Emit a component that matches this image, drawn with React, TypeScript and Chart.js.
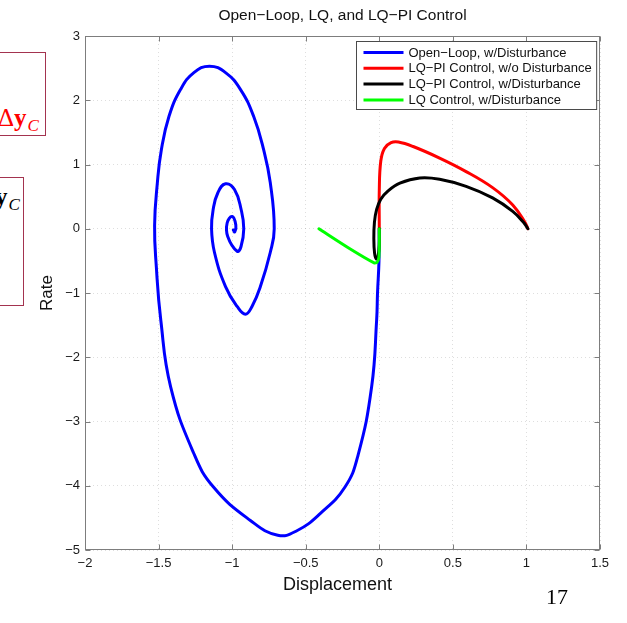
import { useEffect, useRef } from 'react';
import { Chart, registerables } from 'chart.js';

Chart.register(...registerables);

const TITLE = 'Open\u2212Loop, LQ, and LQ\u2212PI Control';
const X_TITLE = 'Displacement';
const Y_TITLE = 'Rate';
const X_TICKS = [-2, -1.5, -1, -0.5, 0, 0.5, 1, 1.5];
const Y_TICKS = [3, 2, 1, 0, -1, -2, -3, -4, -5];

const SERIES_LABELS = [
  'Open\u2212Loop, w/Disturbance',
  'LQ\u2212PI Control, w/o Disturbance',
  'LQ\u2212PI Control, w/Disturbance',
  'LQ Control, w/Disturbance',
];
const SERIES_COLORS = ['#0000ff', '#ff0000', '#000000', '#00ff00'];

const openLoopX = [
  0, -0.002, -0.012, -0.018, -0.052, -0.145, -0.233, -0.4, -0.56, -0.69, -0.876, -1.127, -1.262, -1.418,
  -1.485, -1.515, -1.527, -1.508, -1.481, -1.429, -1.35, -1.26, -1.154, -1.045, -0.944, -0.854, -0.786,
  -0.741, -0.714, -0.741, -0.808, -0.865, -0.91, -0.966, -1.045, -1.12, -1.14, -1.129, -1.097, -1.045,
  -0.984, -0.939, -0.921, -0.94, -0.966, -1.03, -1.034, -1.0, -0.975, -0.982, -0.992,
];
const openLoopY = [
  0, -0.5, -1.0, -1.42, -2.46, -3.53, -4.02, -4.43, -4.7, -4.77, -4.54, -4.02, -3.49, -2.46,
  -1.42, -0.6, 0.05, 0.72, 1.23, 1.75, 2.17, 2.43, 2.53, 2.43, 2.17, 1.75, 1.23,
  0.72, 0.0, -0.37, -0.9, -1.21, -1.33, -1.21, -0.9, -0.37, 0.0, 0.3, 0.56, 0.7,
  0.61, 0.3, 0.0, -0.28, -0.35, -0.12, 0.09, 0.19, 0.06, -0.05, -0.02,
];

const lqpiNoDistX = [0, 0, 0.01, 0.035, 0.08, 0.13, 0.23, 0.41, 0.59, 0.77, 0.907, 0.99, 1.01];
const lqpiNoDistY = [0, 0.6, 1.05, 1.25, 1.34, 1.35, 1.28, 1.1, 0.89, 0.64, 0.37, 0.1, 0.0];

const lqpiDistX = [0, 0, -0.008, -0.02, -0.032, -0.037, -0.033, -0.018, 0.01, 0.06, 0.14, 0.275, 0.41, 0.59, 0.77, 0.907, 0.98, 1.01];
const lqpiDistY = [0, -0.25, -0.42, -0.47, -0.38, -0.15, 0.1, 0.3, 0.46, 0.59, 0.71, 0.79, 0.77, 0.66, 0.48, 0.27, 0.1, 0.0];

const lqDistX = [0, 0, -0.003, -0.015, -0.035, -0.2, -0.41];
const lqDistY = [0, -0.25, -0.45, -0.52, -0.53, -0.31, 0.0];

const AXIS_COLOR = '#7d7d7d';
const FONT = '"Liberation Sans", Arial, Helvetica, sans-serif';

const fmt = (v: number) => String(v).replace('-', '\u2212');

const zip = (xs: number[], ys: number[]) => xs.map((x, i) => ({ x, y: ys[i] }));

const framePlugin = {
  id: 'matlabFrame',
  afterDatasetsDraw(chart: any) {
    const { ctx, chartArea: a, scales } = chart;
    ctx.save();
    const L = Math.round(a.left) + 0.5;
    const R = Math.round(a.right) - 0.5;
    const T = Math.round(a.top) + 0.5;
    const B = Math.round(a.bottom) - 0.5;
    ctx.strokeStyle = AXIS_COLOR;
    ctx.lineWidth = 1;
    ctx.setLineDash([]);
    ctx.strokeRect(L, T, R - L, B - T);
    const tl = 5;
    ctx.beginPath();
    X_TICKS.forEach((v) => {
      const px = Math.round(scales.x.getPixelForValue(v)) + 0.5;
      ctx.moveTo(px, B);
      ctx.lineTo(px, B - tl);
      ctx.moveTo(px, T);
      ctx.lineTo(px, T + tl);
    });
    Y_TICKS.forEach((v) => {
      const py = Math.round(scales.y.getPixelForValue(v)) + 0.5;
      ctx.moveTo(L, py);
      ctx.lineTo(L + tl, py);
      ctx.moveTo(R, py);
      ctx.lineTo(R - tl, py);
    });
    ctx.stroke();

    // legend
    ctx.font = `13px ${FONT}`;
    const tw = Math.max(...SERIES_LABELS.map((s) => ctx.measureText(s).width));
    const w = 52 + tw + 5;
    const h = 68;
    const x0 = Math.round(a.right - 4 - w) + 0.5;
    const y0 = Math.round(a.top + 5) + 0.5;
    ctx.fillStyle = '#ffffff';
    ctx.fillRect(x0, y0, w, h);
    ctx.strokeStyle = '#4a4a4a';
    ctx.strokeRect(x0, y0, w, h);
    SERIES_LABELS.forEach((label, i) => {
      const ry = y0 + 11 + i * 15.8;
      ctx.strokeStyle = SERIES_COLORS[i];
      ctx.lineWidth = 3;
      ctx.beginPath();
      ctx.moveTo(x0 + 7, ry);
      ctx.lineTo(x0 + 47, ry);
      ctx.stroke();
      ctx.fillStyle = '#111111';
      ctx.textAlign = 'left';
      ctx.textBaseline = 'middle';
      ctx.fillText(label, x0 + 52, ry + 0.5);
    });

    // title
    ctx.font = `15.5px ${FONT}`;
    ctx.fillStyle = '#111111';
    ctx.textAlign = 'center';
    ctx.textBaseline = 'middle';
    ctx.fillText(TITLE, (a.left + a.right) / 2, 16);

    // x axis title
    ctx.font = `18px ${FONT}`;
    ctx.fillText(X_TITLE, (a.left + a.right) / 2 - 5, a.bottom + 35);
    ctx.restore();
  },
};

export default function App() {
  const ref = useRef<HTMLCanvasElement | null>(null);

  useEffect(() => {
    if (!ref.current) return;
    const series = [
      { xs: openLoopX, ys: openLoopY, order: 3, tension: 0.45 },
      { xs: lqpiNoDistX, ys: lqpiNoDistY, order: 2, tension: 0.4 },
      { xs: lqpiDistX, ys: lqpiDistY, order: 1, tension: 0.4 },
      { xs: lqDistX, ys: lqDistY, order: 0, tension: 0.25 },
    ];
    const chart = new Chart(ref.current, {
      type: 'scatter',
      data: {
        datasets: series.map((s, i) => ({
          label: SERIES_LABELS[i],
          data: zip(s.xs, s.ys),
          showLine: true,
          borderColor: SERIES_COLORS[i],
          backgroundColor: SERIES_COLORS[i],
          borderWidth: 3,
          pointRadius: 0,
          pointHoverRadius: 0,
          tension: s.tension,
          borderCapStyle: 'round',
          borderJoinStyle: 'round',
          order: s.order,
        })),
      },
      options: {
        animation: false,
        responsive: false,
        events: [],
        layout: { padding: { top: 36, right: 27, left: 0, bottom: 0 } },
        plugins: {
          legend: { display: false },
          title: { display: false },
          tooltip: { enabled: false },
        },
        scales: {
          x: {
            type: 'linear',
            min: -2,
            max: 1.5,
            afterFit: (s: any) => {
              s.height = 73;
            },
            afterBuildTicks: (s: any) => {
              s.ticks = X_TICKS.map((v) => ({ value: v }));
            },
            ticks: {
              autoSkip: false,
              maxRotation: 0,
              padding: 6,
              color: '#1a1a1a',
              font: { family: FONT, size: 13 },
              callback: (v: any) => fmt(Number(v)),
            },
            grid: {
              color: 'rgba(0,0,0,0.13)',
              lineWidth: 1,
              drawTicks: false,
            },
            border: { display: false, dash: [1, 3] },
            title: { display: false },
          },
          y: {
            type: 'linear',
            min: -5,
            max: 3,
            afterFit: (s: any) => {
              s.width = 85;
            },
            afterBuildTicks: (s: any) => {
              s.ticks = Y_TICKS.map((v) => ({ value: v }));
            },
            ticks: {
              autoSkip: false,
              padding: 5,
              color: '#1a1a1a',
              font: { family: FONT, size: 13 },
              callback: (v: any) => fmt(Number(v)),
            },
            grid: {
              color: 'rgba(0,0,0,0.13)',
              lineWidth: 1,
              drawTicks: false,
            },
            border: { display: false, dash: [1, 3] },
            title: {
              display: true,
              text: Y_TITLE,
              color: '#111111',
              font: { family: FONT, size: 17 },
              padding: { top: 37, bottom: 0 },
            },
          },
        },
      },
      plugins: [framePlugin],
    } as any);
    return () => chart.destroy();
  }, []);

  const serif = '"Liberation Serif", "Times New Roman", serif';

  return (
    <div style={{ position: 'absolute', left: 0, top: 0, width: 627, height: 623, overflow: 'hidden', background: '#ffffff' }}>
      <div
        style={{
          position: 'absolute',
          left: -10,
          top: 52,
          width: 56,
          height: 84,
          boxSizing: 'border-box',
          border: '1.5px solid #a3334f',
        }}
      />
      <div
        style={{
          position: 'absolute',
          left: -2,
          top: 105,
          fontFamily: serif,
          fontSize: 25,
          lineHeight: '25px',
          color: '#ff0000',
          whiteSpace: 'nowrap',
        }}
      >
        <span>Δ</span>
        <b>y</b>
        <i style={{ fontSize: 17, position: 'relative', top: 5, marginLeft: 1 }}>C</i>
      </div>
      <div
        style={{
          position: 'absolute',
          left: -10,
          top: 177,
          width: 34,
          height: 129,
          boxSizing: 'border-box',
          border: '1.5px solid #a3334f',
        }}
      />
      <div
        style={{
          position: 'absolute',
          left: -5,
          top: 184,
          fontFamily: serif,
          fontSize: 25,
          lineHeight: '25px',
          color: '#000000',
          whiteSpace: 'nowrap',
        }}
      >
        <b>y</b>
        <i style={{ fontSize: 17, position: 'relative', top: 5, marginLeft: 1 }}>C</i>
      </div>
      <canvas ref={ref} width={627} height={623} style={{ position: 'absolute', left: 0, top: 0, display: 'block' }} />
      <div
        style={{
          position: 'absolute',
          left: 546,
          top: 584,
          fontFamily: serif,
          fontSize: 22,
          lineHeight: '26px',
          color: '#000000',
        }}
      >
        17
      </div>
    </div>
  );
}
